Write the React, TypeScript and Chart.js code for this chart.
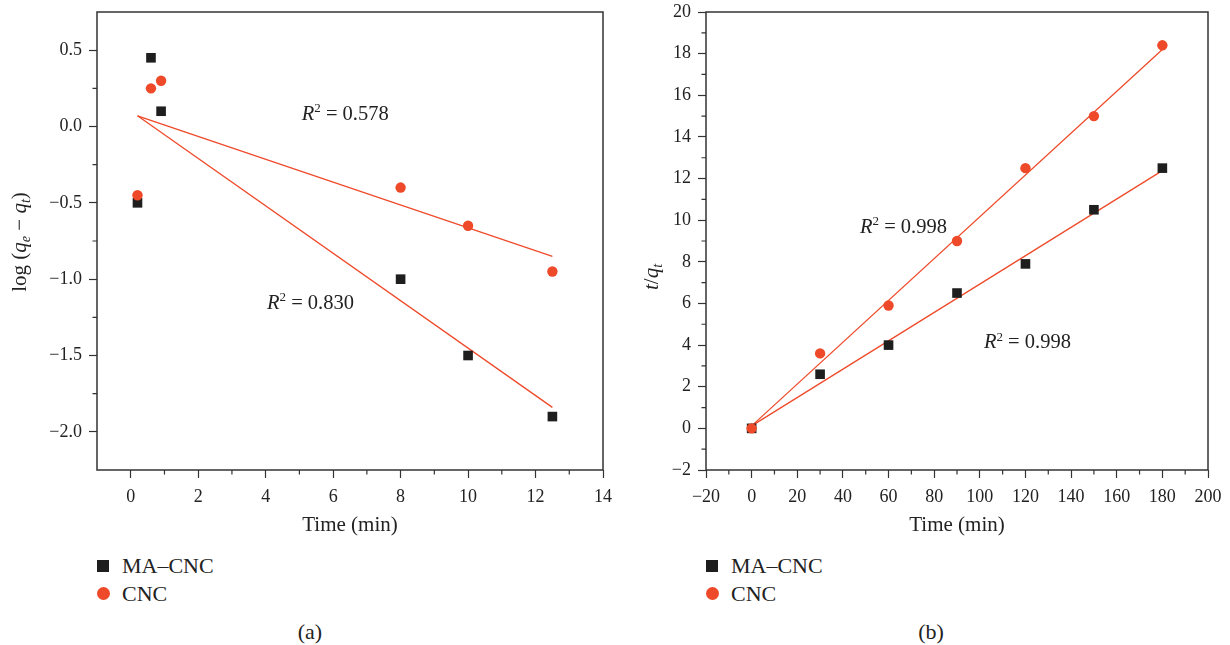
import React, { useEffect, useRef } from 'react';
import { Chart, registerables } from 'chart.js';

Chart.register(...registerables);

const FONT = '"Liberation Serif", "Times New Roman", serif';
const RED = '#EE4A2A';
const BLACK = '#1E1E1E';
const AXIS = '#333333';
const TEXT = '#222222';

// ---------- Panel (a): pseudo-first-order ----------
const aTime = [0.2, 0.6, 0.9, 8, 10, 12.5];
const aMACNC = [-0.5, 0.45, 0.1, -1.0, -1.5, -1.9];
const aCNC = [-0.45, 0.25, 0.3, -0.4, -0.65, -0.95];
const aFitX = [0.2, 12.5];
const aFitMACNC = [0.07, -1.84];
const aFitCNC = [0.07, -0.85];
const aXTicks = [0, 2, 4, 6, 8, 10, 12, 14];
const aXMinor = [1, 3, 5, 7, 9, 11, 13];
const aYTicks = [-2, -1.5, -1, -0.5, 0, 0.5];
const aYMinor = [-1.75, -1.25, -0.75, -0.25, 0.25];
const aAnnX = [5.07, 4.04];
const aAnnY = [0.043, -1.195];
const aAnnText = ['0.578', '0.830'];

// ---------- Panel (b): pseudo-second-order ----------
const bTime = [0, 30, 60, 90, 120, 150, 180];
const bMACNC = [0, 2.6, 4.0, 6.5, 7.9, 10.5, 12.5];
const bCNC = [0, 3.6, 5.9, 9.0, 12.5, 15.0, 18.4];
const bFitX = [0, 180];
const bFitMACNC = [0.12, 12.38];
const bFitCNC = [0.12, 18.2];
const bXTicks = [-20, 0, 20, 40, 60, 80, 100, 120, 140, 160, 180, 200];
const bXMinor = [-10, 10, 30, 50, 70, 90, 110, 130, 150, 170, 190];
const bYTicks = [-2, 0, 2, 4, 6, 8, 10, 12, 14, 16, 18, 20];
const bYMinor = [-1, 1, 3, 5, 7, 9, 11, 13, 15, 17, 19];
const bAnnX = [47.5, 101.8];
const bAnnY = [9.39, 3.86];
const bAnnText = ['0.998', '0.998'];

const legendLabels = ['MA–CNC', 'CNC'];
const captions = ['(a)', '(b)'];
const xTitleText = 'Time (min)';

type Seg = { t: string; italic?: boolean; size: number; dy?: number };

function fontOf(s: Seg) {
  return `${s.italic ? 'italic ' : ''}${s.size}px ${FONT}`;
}

function drawRich(ctx: CanvasRenderingContext2D, segs: Seg[], x: number, y: number, align: 'left' | 'center') {
  let w = 0;
  segs.forEach((s) => {
    ctx.font = fontOf(s);
    w += ctx.measureText(s.t).width;
  });
  let cx = align === 'center' ? x - w / 2 : x;
  ctx.textAlign = 'left';
  segs.forEach((s) => {
    ctx.font = fontOf(s);
    ctx.fillText(s.t, cx, y + (s.dy || 0));
    cx += ctx.measureText(s.t).width;
  });
}

const fmt = (digits: number) => (v: any) => {
  const n = Number(v);
  const s = Math.abs(n).toFixed(digits);
  return n < 0 ? '−' + s : s;
};

type PanelCfg = {
  key: string;
  xs: number[];
  ma: number[];
  cnc: number[];
  fitX: number[];
  fitMA: number[];
  fitCNC: number[];
  xMin: number; xMax: number; yMin: number; yMax: number;
  xTicks: number[]; xMinor: number[]; yTicks: number[]; yMinor: number[];
  yDigits: number;
  yAxisW: number;
  padRight: number;
  annX: number[]; annY: number[]; annText: string[];
  yTitle: Seg[];
  yTitleX: number; yTitleY: number;
};

const panelA: PanelCfg = {
  key: 'a', xs: aTime, ma: aMACNC, cnc: aCNC, fitX: aFitX, fitMA: aFitMACNC, fitCNC: aFitCNC,
  xMin: -1, xMax: 14, yMin: -2.25, yMax: 0.75,
  xTicks: aXTicks, xMinor: aXMinor, yTicks: aYTicks, yMinor: aYMinor, yDigits: 1,
  yAxisW: 97, padRight: 12,
  annX: aAnnX, annY: aAnnY, annText: aAnnText,
  yTitle: [
    { t: 'log (', size: 21 },
    { t: 'q', italic: true, size: 21 },
    { t: 'e', italic: true, size: 14, dy: 4 },
    { t: ' − ', size: 21 },
    { t: 'q', italic: true, size: 21 },
    { t: 't', italic: true, size: 14, dy: 4 },
    { t: ')', size: 21 },
  ],
  yTitleX: 26, yTitleY: 242,
};

const panelB: PanelCfg = {
  key: 'b', xs: bTime, ma: bMACNC, cnc: bCNC, fitX: bFitX, fitMA: bFitMACNC, fitCNC: bFitCNC,
  xMin: -20, xMax: 200, yMin: -2, yMax: 20,
  xTicks: bXTicks, xMinor: bXMinor, yTicks: bYTicks, yMinor: bYMinor, yDigits: 0,
  yAxisW: 91, padRight: 22,
  annX: bAnnX, annY: bAnnY, annText: bAnnText,
  yTitle: [
    { t: 't', italic: true, size: 21 },
    { t: '/', size: 21 },
    { t: 'q', italic: true, size: 21 },
    { t: 't', italic: true, size: 14, dy: 4 },
  ],
  yTitleX: 43, yTitleY: 277,
};

function makeDecor(cfg: PanelCfg) {
  return {
    id: 'decor_' + cfg.key,
    afterDraw(chart: any) {
      const ctx: CanvasRenderingContext2D = chart.ctx;
      const a = chart.chartArea;
      const xs = chart.scales.x;
      const ys = chart.scales.y;
      ctx.save();
      ctx.strokeStyle = AXIS;
      ctx.lineWidth = 1.2;
      ctx.beginPath();
      cfg.xMinor.forEach((v) => {
        const p = xs.getPixelForValue(v);
        ctx.moveTo(p, a.bottom);
        ctx.lineTo(p, a.bottom + 4.5);
      });
      cfg.yMinor.forEach((v) => {
        const p = ys.getPixelForValue(v);
        ctx.moveTo(a.left - 4.5, p);
        ctx.lineTo(a.left, p);
      });
      ctx.stroke();
      ctx.lineWidth = 1.5;
      ctx.strokeRect(a.left, a.top, a.right - a.left, a.bottom - a.top);

      ctx.fillStyle = TEXT;
      ctx.textBaseline = 'alphabetic';
      drawRich(ctx, [{ t: xTitleText, size: 21 }], (a.left + a.right) / 2, a.bottom + 61, 'center');

      ctx.save();
      ctx.translate(cfg.yTitleX, cfg.yTitleY);
      ctx.rotate(-Math.PI / 2);
      drawRich(ctx, cfg.yTitle, 0, 0, 'center');
      ctx.restore();

      cfg.annX.forEach((vx, i) => {
        drawRich(
          ctx,
          [
            { t: 'R', italic: true, size: 20.5 },
            { t: '2', size: 13, dy: -7.5 },
            { t: ' = ' + cfg.annText[i], size: 20.5 },
          ],
          xs.getPixelForValue(vx),
          ys.getPixelForValue(cfg.annY[i]),
          'left'
        );
      });
      ctx.restore();
    },
  };
}

function buildConfig(cfg: PanelCfg): any {
  const pts = (xs: number[], ys: number[]) => xs.map((x, i) => ({ x, y: ys[i] }));
  const gridOpts = {
    drawOnChartArea: false,
    drawTicks: true,
    tickLength: 8,
    tickColor: AXIS,
    tickWidth: 1.2,
  };
  return {
    type: 'scatter',
    data: {
      datasets: [
        {
          label: legendLabels[1],
          data: pts(cfg.xs, cfg.cnc),
          pointStyle: 'circle',
          pointRadius: 5.2,
          pointBorderWidth: 0,
          backgroundColor: RED,
          borderColor: RED,
          showLine: false,
          order: 1,
        },
        {
          label: legendLabels[0],
          data: pts(cfg.xs, cfg.ma),
          pointStyle: 'rect',
          pointRadius: 6.8,
          pointBorderWidth: 0,
          backgroundColor: BLACK,
          borderColor: BLACK,
          showLine: false,
          order: 2,
        },
        {
          label: 'fit ' + legendLabels[1],
          data: pts(cfg.fitX, cfg.fitCNC),
          showLine: true,
          borderColor: RED,
          borderWidth: 1.3,
          pointRadius: 0,
          order: 3,
        },
        {
          label: 'fit ' + legendLabels[0],
          data: pts(cfg.fitX, cfg.fitMA),
          showLine: true,
          borderColor: RED,
          borderWidth: 1.3,
          pointRadius: 0,
          order: 3,
        },
      ],
    },
    options: {
      responsive: false,
      animation: false,
      events: [],
      layout: { padding: { left: 0, top: 12, right: cfg.padRight, bottom: 0 } },
      plugins: { legend: { display: false }, tooltip: { enabled: false }, title: { display: false } },
      scales: {
        x: {
          type: 'linear',
          min: cfg.xMin,
          max: cfg.xMax,
          afterBuildTicks: (s: any) => {
            s.ticks = cfg.xTicks.map((v) => ({ value: v }));
          },
          afterFit: (s: any) => {
            s.height = 75;
            s.paddingLeft = 0;
            s.paddingRight = 0;
          },
          grid: gridOpts,
          border: { display: false },
          ticks: {
            callback: fmt(0),
            font: { family: FONT, size: 18 },
            color: TEXT,
            padding: 8,
            maxRotation: 0,
            autoSkip: false,
          },
        },
        y: {
          type: 'linear',
          min: cfg.yMin,
          max: cfg.yMax,
          afterBuildTicks: (s: any) => {
            s.ticks = cfg.yTicks.map((v) => ({ value: v }));
          },
          afterFit: (s: any) => {
            s.width = cfg.yAxisW;
            s.paddingTop = 0;
            s.paddingBottom = 0;
          },
          grid: gridOpts,
          border: { display: false },
          ticks: {
            callback: fmt(cfg.yDigits),
            font: { family: FONT, size: 18 },
            color: TEXT,
            padding: 7,
            autoSkip: false,
          },
        },
      },
    },
    plugins: [makeDecor(cfg)],
  };
}

const LEG_FS = 22;
const BASE_OFF = LEG_FS * 0.891 + (LEG_FS - LEG_FS * 1.107) / 2;

function LegendBlock({ left }: { left: number }) {
  const textStyle: React.CSSProperties = {
    position: 'absolute',
    left: left + 25,
    fontSize: LEG_FS,
    lineHeight: `${LEG_FS}px`,
    whiteSpace: 'nowrap',
    fontFamily: FONT,
    color: TEXT,
  };
  return (
    <>
      <div style={{ position: 'absolute', left, top: 566 - 6, width: 12, height: 12, background: BLACK }} />
      <div style={{ ...textStyle, top: 573 - BASE_OFF }}>{legendLabels[0]}</div>
      <div
        style={{ position: 'absolute', left: left - 0.5, top: 593.5 - 6.5, width: 13, height: 13, borderRadius: '50%', background: RED }}
      />
      <div style={{ ...textStyle, top: 601 - BASE_OFF }}>{legendLabels[1]}</div>
    </>
  );
}

function Caption({ text, cx }: { text: string; cx: number }) {
  return (
    <div
      style={{
        position: 'absolute',
        left: cx - 50,
        width: 100,
        textAlign: 'center',
        top: 639 - BASE_OFF,
        fontSize: LEG_FS,
        lineHeight: `${LEG_FS}px`,
        fontFamily: FONT,
        color: TEXT,
      }}
    >
      {text}
    </div>
  );
}

export default function App() {
  const refA = useRef<HTMLCanvasElement>(null);
  const refB = useRef<HTMLCanvasElement>(null);
  useEffect(() => {
    const ca = new Chart(refA.current as HTMLCanvasElement, buildConfig(panelA));
    const cb = new Chart(refB.current as HTMLCanvasElement, buildConfig(panelB));
    return () => {
      ca.destroy();
      cb.destroy();
    };
  }, []);
  return (
    <div style={{ position: 'absolute', left: 0, top: 0, width: 1230, height: 645, background: '#fff', overflow: 'hidden' }}>
      <canvas ref={refA} width={615} height={545} style={{ position: 'absolute', left: 0, top: 0 }} />
      <canvas ref={refB} width={615} height={545} style={{ position: 'absolute', left: 615, top: 0 }} />
      <LegendBlock left={97} />
      <LegendBlock left={706} />
      <Caption text={captions[0]} cx={310} />
      <Caption text={captions[1]} cx={931} />
    </div>
  );
}
